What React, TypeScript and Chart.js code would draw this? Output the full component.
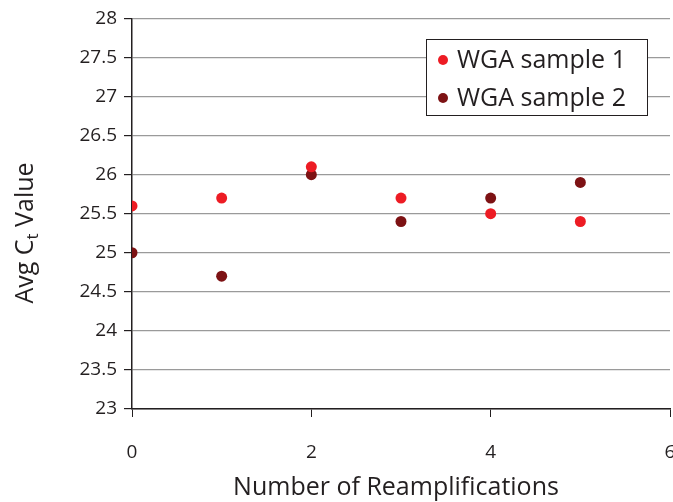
import React, { useEffect, useRef } from "react";
import { Chart, registerables } from "chart.js";

Chart.register(...registerables);

const reamplifications = [0, 1, 2, 3, 4, 5];
const sample1 = [25.6, 25.7, 26.1, 25.7, 25.5, 25.4];
const sample2 = [25.0, 24.7, 26.0, 25.4, 25.7, 25.9];
const seriesLabels = ["WGA sample 1", "WGA sample 2"];
const seriesColors = ["#ed1c24", "#7d1214"];
const xTitle = "Number of Reamplifications";
const yTitleMain = "Avg C";
const yTitleSub = "t";
const yTitleRest = " Value";

const FONT = "'Open Sans', 'DejaVu Sans', sans-serif";
const TEXT = "#231f20";

const overlay = {
  id: "overlay",
  afterDraw(chart: any) {
    const ctx = chart.ctx as CanvasRenderingContext2D;
    ctx.save();
    ctx.fillStyle = TEXT;
    // x title
    ctx.font = `25px ${FONT}`;
    ctx.textAlign = "center";
    ctx.textBaseline = "alphabetic";
    ctx.fillText(xTitle, 396, 495);
    // y title with subscript
    ctx.save();
    ctx.translate(33, 233);
    ctx.rotate(-Math.PI / 2);
    ctx.textAlign = "left";
    ctx.textBaseline = "alphabetic";
    ctx.font = `25px ${FONT}`;
    const w1 = ctx.measureText(yTitleMain).width;
    ctx.font = `17px ${FONT}`;
    const w2 = ctx.measureText(yTitleSub).width;
    ctx.font = `25px ${FONT}`;
    const w3 = ctx.measureText(yTitleRest).width;
    const total = w1 + w2 + w3;
    let x = -total / 2;
    ctx.fillText(yTitleMain, x, 0);
    x += w1;
    ctx.font = `17px ${FONT}`;
    ctx.fillText(yTitleSub, x, 5);
    x += w2;
    ctx.font = `25px ${FONT}`;
    ctx.fillText(yTitleRest, x, 0);
    ctx.restore();

    // legend box
    const bx = 426, by = 39, bw = 221, bh = 76;
    ctx.fillStyle = "#ffffff";
    ctx.fillRect(bx, by, bw, bh);
    ctx.strokeStyle = TEXT;
    ctx.lineWidth = 1;
    ctx.strokeRect(bx + 0.5, by + 0.5, bw, bh);
    ctx.font = `25px ${FONT}`;
    ctx.textAlign = "left";
    ctx.textBaseline = "alphabetic";
    seriesLabels.forEach((lab, i) => {
      const cy = by + 21 + i * 38;
      ctx.fillStyle = seriesColors[i];
      ctx.beginPath();
      ctx.arc(bx + 17, cy, 5, 0, Math.PI * 2);
      ctx.fill();
      ctx.fillStyle = TEXT;
      ctx.fillText(lab, bx + 31, cy + 8);
    });
    ctx.restore();
  },
};

export default function App() {
  const ref = useRef<HTMLCanvasElement>(null);
  useEffect(() => {
    if (!ref.current) return;
    const chart = new Chart(ref.current, {
      type: "scatter",
      data: {
        datasets: [
          {
            label: seriesLabels[0],
            data: reamplifications.map((x, i) => ({ x, y: sample1[i] })),
            backgroundColor: seriesColors[0],
            borderColor: seriesColors[0],
            pointRadius: 5.5,
            pointBorderWidth: 0,
          },
          {
            label: seriesLabels[1],
            data: reamplifications.map((x, i) => ({ x, y: sample2[i] })),
            backgroundColor: seriesColors[1],
            borderColor: seriesColors[1],
            pointRadius: 5.5,
            pointBorderWidth: 0,
          },
        ],
      },
      options: {
        responsive: false,
        animation: false,
        layout: { padding: { left: 0, top: 18, right: 30, bottom: 0 } },
        plugins: { legend: { display: false }, tooltip: { enabled: false } },
        scales: {
          x: {
            type: "linear",
            min: 0,
            max: 6,
            ticks: {
              stepSize: 2,
              color: TEXT,
              font: { family: FONT, size: 19 },
              padding: 24,
              maxRotation: 0,
              callback: (v: any) => String(v),
            },
            grid: {
              drawOnChartArea: false,
              drawTicks: true,
              tickLength: 8,
              tickColor: TEXT,
            },
            border: { color: TEXT, width: 1.5 },
            afterFit: (s: any) => {
              s.height = 93;
            },
          },
          y: {
            min: 23,
            max: 28,
            ticks: {
              stepSize: 0.5,
              color: TEXT,
              font: { family: FONT, size: 19 },
              padding: 7,
              callback: (v: any) => String(v),
            },
            grid: {
              color: "#9a9a9a",
              lineWidth: 1.2,
              tickLength: 8,
              tickColor: TEXT,
            },
            border: { color: TEXT, width: 1.5 },
            afterFit: (s: any) => {
              s.width = 132;
            },
          },
        },
      },
      plugins: [overlay],
    } as any);
    return () => chart.destroy();
  }, []);
  return (
    <div
      style={{
        position: "fixed",
        left: 0,
        top: 0,
        width: 673,
        height: 502,
        overflow: "hidden",
        background: "#fff",
      }}
    >
      <canvas ref={ref} width={700} height={502} style={{ display: "block" }} />
    </div>
  );
}
